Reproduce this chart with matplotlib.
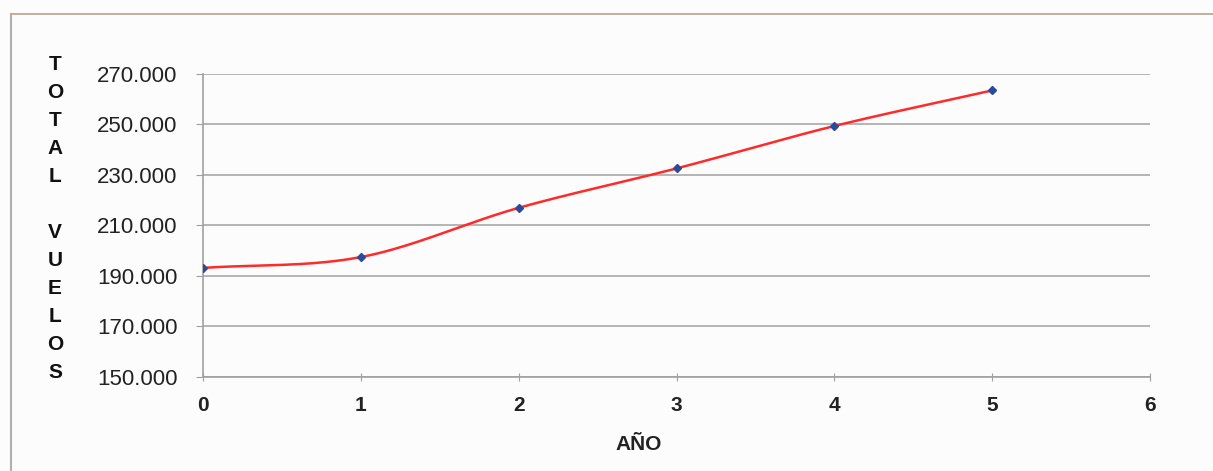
import numpy as np
import matplotlib.pyplot as plt
from matplotlib.lines import Line2D

# data
anios = [0, 1, 2, 3, 4, 5]
vuelos = [193200, 197500, 217000, 232600, 249400, 263500]
y_ticks = [150000, 170000, 190000, 210000, 230000, 250000, 270000]
x_ticks = [0, 1, 2, 3, 4, 5, 6]

plt.rcParams['font.family'] = ['Liberation Sans', 'DejaVu Sans']

fig = plt.figure(figsize=(12.13, 4.71), dpi=100)
fig.patch.set_facecolor('#fcfcfc')
ax = fig.add_axes([0.1674, 0.1996, 0.7807, 0.6433])
ax.set_facecolor('#fcfcfc')

# smoothed line (Catmull-Rom like Excel's "smoothed line")
x = np.array(anios, dtype=float)
y = np.array(vuelos, dtype=float)
px = np.concatenate([[2 * x[0] - x[1]], x, [2 * x[-1] - x[-2]]])
py = np.concatenate([[2 * y[0] - y[1]], y, [2 * y[-1] - y[-2]]])
sx, sy = [], []
t = np.linspace(0, 1, 40)
for i in range(1, len(px) - 2):
    p0, p1, p2, p3 = px[i - 1], px[i], px[i + 1], px[i + 2]
    q0, q1, q2, q3 = py[i - 1], py[i], py[i + 1], py[i + 2]
    sx.append(0.5 * (2 * p1 + (-p0 + p2) * t + (2 * p0 - 5 * p1 + 4 * p2 - p3) * t**2
                     + (-p0 + 3 * p1 - 3 * p2 + p3) * t**3))
    sy.append(0.5 * (2 * q1 + (-q0 + q2) * t + (2 * q0 - 5 * q1 + 4 * q2 - q3) * t**2
                     + (-q0 + 3 * q1 - 3 * q2 + q3) * t**3))
ax.plot(np.concatenate(sx), np.concatenate(sy), color='#ff2a2a', lw=1.8, zorder=3)
ax.plot(anios, vuelos, linestyle='none', marker='D', markersize=4.5,
        color='#2c4a9a', zorder=4)

ax.set_xlim(0, 6)
ax.set_ylim(150000, 270000)
ax.set_xticks(x_ticks)
ax.set_yticks(y_ticks)
ax.set_yticklabels([f'{v:,}'.replace(',', '.') for v in y_ticks], fontsize=16)
ax.set_xticklabels([str(v) for v in x_ticks], fontsize=15, fontweight='bold')
ax.grid(axis='y', color='#a8a8a8', lw=1.2)
ax.set_axisbelow(True)
for s in ['top', 'right']:
    ax.spines[s].set_visible(False)
for s in ['left', 'bottom']:
    ax.spines[s].set_color('#a0a0a0')
    ax.spines[s].set_linewidth(1.2)
ax.tick_params(axis='y', length=5, color='#a0a0a0', pad=13.5, labelcolor='#222222')
ax.tick_params(axis='x', direction='inout', length=6, color='#a0a0a0', pad=11,
               labelcolor='#222222')

ax.set_xlabel('AÑO', fontsize=15, fontweight='bold', color='#222222')
ax.xaxis.set_label_coords(0.46, -0.19)

fig.text(55 / 1213, 0.536, 'T\nO\nT\nA\nL\n\nV\nU\nE\nL\nO\nS', ha='center', va='center',
         fontsize=15, fontweight='bold', linespacing=1.6, color='#111111')

# chart frame
fig.add_artist(Line2D([0.0087, 1], [0.9703, 0.9703], color='#b8a090', lw=1.2))
fig.add_artist(Line2D([0.0087, 0.0087], [0, 0.9703], color='#b0b0b0', lw=1.5))

fig.savefig('out.png', dpi=100)
